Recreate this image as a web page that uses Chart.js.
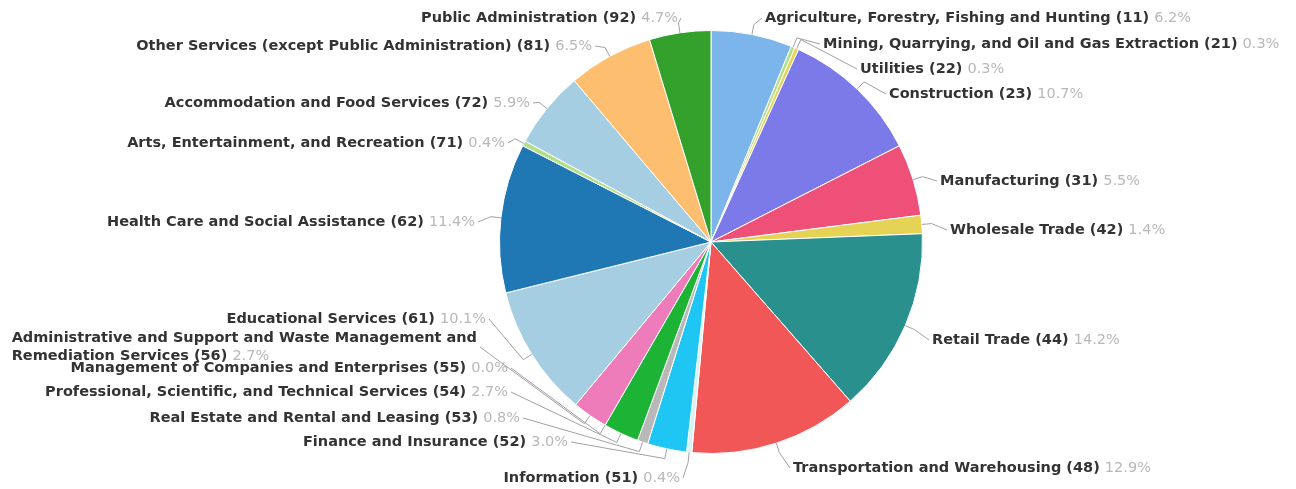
<!DOCTYPE html>
<html>
<head>
<meta charset="utf-8">
<script src="https://cdn.jsdelivr.net/npm/chart.js@4/dist/chart.umd.min.js"></script>
<style>
  html, body { margin: 0; padding: 0; background: #fff; }
  #wrap { width: 1296px; height: 489px; }
</style>
</head>
<body>
<div id="wrap"><canvas id="piechart" width="1296" height="489"></canvas></div>
<script>
// sectors, NAICS code and share of total (%)
var sectors = [
  "Agriculture, Forestry, Fishing and Hunting",
  "Mining, Quarrying, and Oil and Gas Extraction",
  "Utilities",
  "Construction",
  "Manufacturing",
  "Wholesale Trade",
  "Retail Trade",
  "Transportation and Warehousing",
  "Information",
  "Finance and Insurance",
  "Real Estate and Rental and Leasing",
  "Professional, Scientific, and Technical Services",
  "Management of Companies and Enterprises",
  "Administrative and Support and Waste Management and Remediation Services",
  "Educational Services",
  "Health Care and Social Assistance",
  "Arts, Entertainment, and Recreation",
  "Accommodation and Food Services",
  "Other Services (except Public Administration)",
  "Public Administration"
];
var codes = ["11", "21", "22", "23", "31", "42", "44", "48", "51", "52", "53", "54", "55", "56", "61", "62", "71", "72", "81", "92"];
var shares = [6.2, 0.3, 0.3, 10.7, 5.5, 1.4, 14.2, 12.9, 0.4, 3.0, 0.8, 2.7, 0.0, 2.7, 10.1, 11.4, 0.4, 5.9, 6.5, 4.7];

var colors = ["#7cb5ec", "#b2df8a", "#e4d354", "#7b7ae8", "#ef5078", "#e4d354", "#2a908e", "#f25757",
              "#d9f2f2", "#1fc6f4", "#b8b8b8", "#1db334", "#b2df8a", "#ef7cba", "#a6cee3", "#1f78b4",
              "#b2df8a", "#a6cee3", "#fdbf6f", "#33a02c"];

// label placement (text edge nearest the pie, vertical middle)
var labelPos = [
  [765, 18], [823, 44], [860, 69], [889, 94], [940, 181], [950, 230], [932, 340], [793, 468],
  [680, 478], [568, 442], [520, 418], [508, 392], [508, 368], [477, 338], [486, 319], [475, 222],
  [505, 143], [530, 103], [592, 46], [678, 18]
];

var FONT_B = "bold 14.5px 'DejaVu Sans'";
var FONT_N = "14.5px 'DejaVu Sans'";

var outsideLabels = {
  id: 'outsideLabels',
  afterDatasetsDraw: function(chart) {
    var ctx = chart.ctx;
    var arcs = chart.getDatasetMeta(0).data;
    ctx.save();
    ctx.textBaseline = 'middle';
    arcs.forEach(function(arc, i) {
      var p = arc.getProps(['x', 'y', 'startAngle', 'endAngle', 'outerRadius'], true);
      var mid = (p.startAngle + p.endAngle) / 2;
      var right = Math.cos(mid) >= 0 || i === 7;
      var lx = labelPos[i][0], ly = labelPos[i][1];
      var name = sectors[i] + " (" + codes[i] + ")";
      var pct = shares[i].toFixed(1) + "%";
      var ex = p.x + Math.cos(mid) * p.outerRadius, ey = p.y + Math.sin(mid) * p.outerRadius;
      var bx = p.x + Math.cos(mid) * (p.outerRadius + 10), by = p.y + Math.sin(mid) * (p.outerRadius + 10);
      var cy = ly;

      ctx.font = FONT_B;
      if (i === 13) {
        // long label wraps to two lines
        var l1 = "Administrative and Support and Waste Management and";
        var l2 = "Remediation Services (" + codes[i] + ")";
        var w1 = ctx.measureText(l1).width;
        var x0 = lx - w1;
        ctx.fillStyle = '#333';
        ctx.textAlign = 'left';
        ctx.fillText(l1, x0, ly);
        ctx.fillText(l2, x0, ly + 18);
        var w2 = ctx.measureText(l2 + " ").width;
        ctx.font = FONT_N;
        ctx.fillStyle = '#b8b8b8';
        ctx.fillText(pct, x0 + w2, ly + 18);
        cy = ly + 9;
      } else if (right) {
        ctx.textAlign = 'left';
        ctx.fillStyle = '#333';
        ctx.fillText(name, lx, ly);
        var wn = ctx.measureText(name + " ").width;
        ctx.font = FONT_N;
        ctx.fillStyle = '#b8b8b8';
        ctx.fillText(pct, lx + wn, ly);
      } else {
        ctx.font = FONT_N;
        var wp = ctx.measureText(pct).width;
        ctx.textAlign = 'right';
        ctx.fillStyle = '#b8b8b8';
        ctx.fillText(pct, lx, ly);
        ctx.font = FONT_B;
        ctx.fillStyle = '#333';
        ctx.fillText(name + " ", lx - wp, ly);
      }

      // connector
      var ax = right ? lx - 3 : lx + 3;
      ctx.strokeStyle = '#a0a0a0';
      ctx.lineWidth = 1;
      ctx.beginPath();
      ctx.moveTo(ex, ey);
      ctx.lineTo(bx, by);
      ctx.lineTo(ax, cy);
      ctx.stroke();
    });
    ctx.restore();
  }
};

var ctx = document.getElementById('piechart').getContext('2d');
var myChart = new Chart(ctx, {
  type: 'pie',
  data: {
    labels: sectors,
    datasets: [{
      data: shares,
      backgroundColor: colors,
      borderColor: '#ffffff',
      borderWidth: 1
    }]
  },
  options: {
    responsive: false,
    animation: false,
    layout: { padding: { left: 499, right: 373, top: 30, bottom: 35 } },
    plugins: {
      legend: { display: false },
      tooltip: { enabled: false }
    }
  },
  plugins: [outsideLabels]
});
</script>
</body>
</html>
